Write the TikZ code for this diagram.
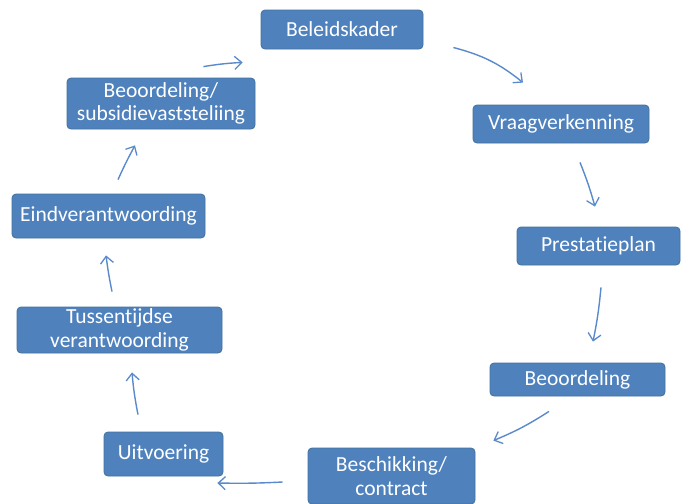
\documentclass[tikz,border=0pt]{standalone}
\usepackage{fontspec}
\setmainfont[Ligatures={NoCommon,NoRare}]{Carlito}
\usetikzlibrary{arrows.meta}
\definecolor{boxblue}{HTML}{4F81BD}
\definecolor{boxedge}{HTML}{41719C}
\definecolor{arrowblue}{HTML}{5A8ACB}
\begin{document}
\begin{tikzpicture}[x=1pt,y=-1pt,
  stepbox/.style={fill=boxblue, draw=boxedge, line width=0.8pt, rounded corners=4pt,
    text=white, font=\fontsize{21.5}{23.5}\selectfont, align=center, inner sep=0pt},
  flow/.style={draw=arrowblue, line width=1.4pt, -{Straight Barb[length=7pt,width=13pt,line width=1.3pt]}}]
\useasboundingbox (0,0) rectangle (681,504);
\fill[white] (0,0) rectangle (681,504);
\node[stepbox, minimum width=162pt, minimum height=39pt] (b1) at (342,29.5) {Beleidskader};
\node[stepbox, minimum width=176pt, minimum height=38pt] (b2) at (561,124) {Vraagverkenning};
\node[stepbox, minimum width=163pt, minimum height=38pt] (b3) at (598.5,246) {Prestatieplan};
\node[stepbox, minimum width=175pt, minimum height=33pt] (b4) at (577.5,379.5) {Beoordeling};
\node[stepbox, minimum width=167pt, minimum height=56pt] (b5) at (391.5,476) {Beschikking/\\contract};
\node[stepbox, minimum width=119pt, minimum height=44pt] (b6) at (163.5,454) {Uitvoering};
\node[stepbox, minimum width=205pt, minimum height=46pt] (b7) at (119.5,330) {Tussentijdse\\verantwoording};
\node[stepbox, minimum width=193pt, minimum height=44pt] (b8) at (108.5,216) {Eindverantwoording};
\node[stepbox, minimum width=188pt, minimum height=51pt] (b9) at (161,103.5) {Beoordeling/\\subsidievaststeliing};
% connectors
\draw[flow] ([shift={(30,18)}]b1.east) to[bend left=12] ([shift={(-38,-22)}]b2.north);
\draw[flow] ([shift={(19,19)}]b2.south) to[bend left=3] ([shift={(-3.5,-20)}]b3.north);
\draw[flow] ([shift={(2.5,22)}]b3.south) to[bend left=3] ([shift={(15.5,-21)}]b4.north);
\draw[flow] ([shift={(-28.5,15)}]b4.south) to[bend left=5] ([shift={(18,-7)}]b5.north east);
\draw[flow] ([shift={(-25,6)}]b5.west) to[bend left=2] ([shift={(-6,29)}]b6.east);
\draw[flow] ([shift={(-25.5,-17)}]b6.north) to[bend left=3] ([shift={(12.5,19)}]b7.south);
\draw[flow] ([shift={(-7.5,-15)}]b7.north) to[bend left=2] ([shift={(-2.5,17)}]b8.south);
\draw[flow] ([shift={(9.5,-14)}]b8.north) to[bend left=2] ([shift={(-26,16)}]b9.south);
\draw[flow] ([shift={(-52,-11)}]b9.north east) to[bend left=3] ([shift={(-18,13)}]b1.south west);
\end{tikzpicture}
\end{document}
